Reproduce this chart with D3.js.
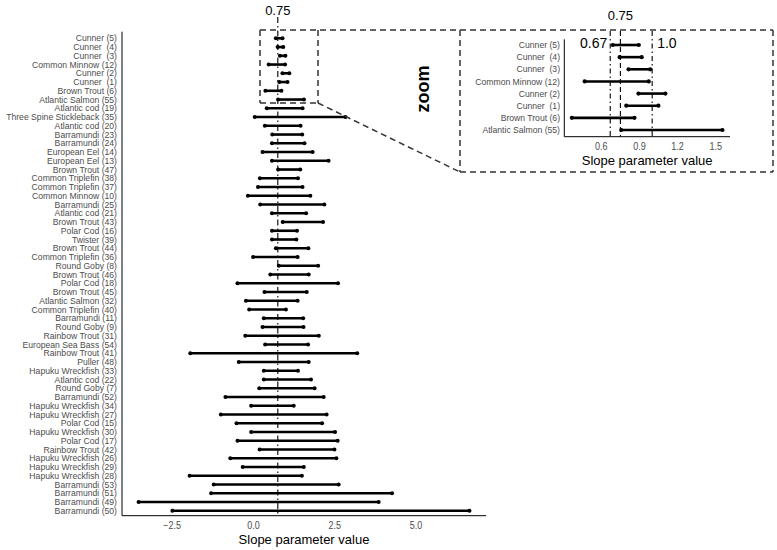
<!DOCTYPE html>
<html><head><meta charset="utf-8">
<script src="https://cdn.jsdelivr.net/npm/d3@7"></script>
<style>
body{margin:0;background:#fff;}
text{font-family:"Liberation Sans",Arial,Helvetica,sans-serif;white-space:pre;}
</style></head>
<body><svg id="c" width="777" height="550"></svg>
<script>
const labels = ["Cunner (5)","Cunner  (4)","Cunner  (3)","Common Minnow (12)","Cunner (2)","Cunner  (1)","Brown Trout (6)","Atlantic Salmon (55)","Atlantic cod (19)","Three Spine Stickleback (35)","Atlantic cod (20)","Barramundi (23)","Barramundi (24)","European Eel (14)","European Eel (13)","Brown Trout (47)","Common Triplefin (38)","Common Triplefin (37)","Common Minnow (10)","Barramundi (25)","Atlantic cod (21)","Brown Trout (43)","Polar Cod (16)","Twister (39)","Brown Trout (44)","Common Triplefin (36)","Round Goby (8)","Brown Trout (46)","Polar Cod (18)","Brown Trout (45)","Atlantic Salmon (32)","Common Triplefin (40)","Barramundi (11)","Round Goby (9)","Rainbow Trout (31)","European Sea Bass (54)","Rainbow Trout (41)","Puller (48)","Hapuku Wreckfish (33)","Atlantic cod (22)","Round Goby (7)","Barramundi (52)","Hapuku Wreckfish (34)","Hapuku Wreckfish (27)","Polar Cod (15)","Hapuku Wreckfish (30)","Polar Cod (17)","Rainbow Trout (42)","Hapuku Wreckfish (26)","Hapuku Wreckfish (29)","Hapuku Wreckfish (28)","Barramundi (53)","Barramundi (51)","Barramundi (49)","Barramundi (50)"];
const lower = [0.69,0.744,0.814,0.469,0.892,0.796,0.368,0.757,0.41,0.04,0.35,0.58,0.57,0.28,0.57,0.76,0.20,0.14,-0.17,0.21,0.57,0.90,0.57,0.57,0.69,-0.01,0.78,0.52,-0.49,0.34,-0.23,-0.13,0.32,0.28,-0.25,0.36,-1.94,-0.45,0.32,0.32,0.18,-0.86,-0.07,-1.00,-0.52,-0.07,-0.49,0.19,-0.71,-0.33,-1.96,-1.22,-1.30,-3.53,-2.49];
const upper = [0.895,0.918,0.984,0.973,1.104,1.049,0.861,1.553,1.51,2.83,1.45,1.50,1.57,1.82,2.31,1.44,1.37,1.51,1.75,2.18,1.62,2.14,1.34,1.32,1.69,1.36,1.99,1.70,2.60,1.64,1.36,1.00,1.53,1.54,2.01,1.68,3.19,1.70,1.37,1.77,1.88,2.16,1.24,2.25,2.11,2.51,2.59,2.49,2.55,1.55,1.49,2.62,4.26,3.85,6.64];
const mainTicks = [-2.5, 0, 2.5, 5];
const insetTicks = [0.6, 0.9, 1.2, 1.5];
const refMain = 0.75;
const insetRefs = [0.67, 0.75, 1.0];
const insetN = 8;

const data = labels.map((l,i)=>({label:l, lo:lower[i], hi:upper[i]}));
const svg = d3.select("#c");
const GREY = "#4d4d4d";

function expand(lo, hi){ const r = hi-lo; return [lo-0.05*r, hi+0.05*r]; }
function condensedText(g, x, y, txt, size, anchor, fill, sx){
  g.append("text").attr("transform",`translate(${x},${y}) scale(${sx},1)`)
    .attr("text-anchor",anchor).attr("dominant-baseline","central")
    .attr("font-size",size).attr("fill",fill).text(txt);
}

// ---------- Main panel ----------
const xM = d3.scaleLinear().domain(expand(d3.min(lower), d3.max(upper))).range([122, 486]);
const yM = d3.scalePoint().domain(labels).range([38.3, 510.7]);
const mainTop = 31.7, mainBot = 515.7;

const gm = svg.append("g");
gm.append("line").attr("x1",xM(refMain)).attr("x2",xM(refMain)).attr("y1",17).attr("y2",mainBot)
  .attr("stroke","#000").attr("stroke-width",1.1).attr("stroke-dasharray","6,3,1.5,3");
gm.append("text").attr("x",xM(refMain)).attr("y",15).attr("text-anchor","middle")
  .attr("font-size",13).attr("fill","#000").text("0.75");

gm.selectAll("line.seg").data(data).join("line").attr("class","seg")
  .attr("x1",d=>xM(d.lo)).attr("x2",d=>xM(d.hi)).attr("y1",d=>yM(d.label)).attr("y2",d=>yM(d.label))
  .attr("stroke","#000").attr("stroke-width",2.6);
gm.selectAll("circle.lo").data(data).join("circle").attr("class","lo")
  .attr("cx",d=>xM(d.lo)).attr("cy",d=>yM(d.label)).attr("r",2).attr("fill","#000");
gm.selectAll("circle.hi").data(data).join("circle").attr("class","hi")
  .attr("cx",d=>xM(d.hi)).attr("cy",d=>yM(d.label)).attr("r",2).attr("fill","#000");

gm.append("line").attr("x1",xM.range()[0]).attr("x2",xM.range()[0]).attr("y1",mainTop).attr("y2",mainBot).attr("stroke","#000").attr("stroke-width",1);
gm.append("line").attr("x1",xM.range()[0]).attr("x2",xM.range()[1]).attr("y1",mainBot).attr("y2",mainBot).attr("stroke","#000").attr("stroke-width",1);
labels.forEach(l=>condensedText(gm, 117, yM(l), l, 9.6, "end", GREY, 0.9));
mainTicks.forEach(t=>condensedText(gm, xM(t), 525.5, d3.format(".1f")(t).replace("-","\u2212"), 10, "middle", GREY, 0.9));
gm.append("text").attr("x",(xM.range()[0]+xM.range()[1])/2).attr("y",544).attr("text-anchor","middle")
  .attr("font-size",13).attr("fill","#000").text("Slope parameter value");

// ---------- zoom box & connectors ----------
function dline(x1,y1,x2,y2){
  svg.append("line").attr("x1",x1).attr("y1",y1).attr("x2",x2).attr("y2",y2)
    .attr("stroke","#333").attr("stroke-width",1.5).attr("stroke-dasharray","6,4");
}
dline(260,30,773,30);
dline(260,30,260,103);
dline(260,103,318,103);
dline(318,30,318,103);
dline(318,103,460,172);
dline(460,30,460,172);
dline(460,172,773,172);
dline(773,30,773,172);

svg.append("text").attr("transform","translate(429,89) rotate(-90)").attr("text-anchor","middle")
  .attr("font-size",18).attr("font-weight","bold").attr("fill","#000").text("zoom");

// ---------- Inset ----------
const inset = data.slice(0, insetN);
const xI = d3.scaleLinear().domain(expand(d3.min(inset,d=>d.lo), d3.max(inset,d=>d.hi))).range([564.3, 730]);
const yI = d3.scalePoint().domain(inset.map(d=>d.label)).range([45, 130]);
const inTop = 39.3, inBot = 136.7;
const gi = svg.append("g");
gi.append("line").attr("x1",xI(insetRefs[0])).attr("x2",xI(insetRefs[0])).attr("y1",31).attr("y2",inBot)
  .attr("stroke","#000").attr("stroke-width",1.1).attr("stroke-dasharray","5,3,1.5,3");
gi.append("line").attr("x1",xI(insetRefs[1])).attr("x2",xI(insetRefs[1])).attr("y1",31).attr("y2",inBot)
  .attr("stroke","#000").attr("stroke-width",1.1).attr("stroke-dasharray","5,3");
gi.append("line").attr("x1",xI(insetRefs[2])).attr("x2",xI(insetRefs[2])).attr("y1",31).attr("y2",inBot)
  .attr("stroke","#000").attr("stroke-width",1.1).attr("stroke-dasharray","5,3,1.5,3");
gi.append("text").attr("x",xI(0.75)).attr("y",20).attr("text-anchor","middle").attr("font-size",13).attr("fill","#000").text("0.75");
gi.append("text").attr("x",xI(0.67)-3).attr("y",48).attr("text-anchor","end").attr("font-size",14).attr("fill","#000").text("0.67");
gi.append("text").attr("x",xI(1.0)+5).attr("y",48).attr("text-anchor","start").attr("font-size",14).attr("fill","#000").text("1.0");

gi.selectAll("line.seg").data(inset).join("line").attr("class","seg")
  .attr("x1",d=>xI(d.lo)).attr("x2",d=>xI(d.hi)).attr("y1",d=>yI(d.label)).attr("y2",d=>yI(d.label))
  .attr("stroke","#000").attr("stroke-width",2.6);
gi.selectAll("circle.lo").data(inset).join("circle").attr("class","lo")
  .attr("cx",d=>xI(d.lo)).attr("cy",d=>yI(d.label)).attr("r",2.1).attr("fill","#000");
gi.selectAll("circle.hi").data(inset).join("circle").attr("class","hi")
  .attr("cx",d=>xI(d.hi)).attr("cy",d=>yI(d.label)).attr("r",2.1).attr("fill","#000");

gi.append("line").attr("x1",xI.range()[0]).attr("x2",xI.range()[0]).attr("y1",inTop).attr("y2",inBot).attr("stroke","#000").attr("stroke-width",1);
gi.append("line").attr("x1",xI.range()[0]).attr("x2",xI.range()[1]).attr("y1",inBot).attr("y2",inBot).attr("stroke","#000").attr("stroke-width",1);
inset.forEach(d=>condensedText(gi, 560, yI(d.label), d.label, 9.8, "end", GREY, 0.88));
insetTicks.forEach(t=>condensedText(gi, xI(t), 146, d3.format(".1f")(t), 10, "middle", GREY, 0.9));
gi.append("text").attr("x",(xI.range()[0]+xI.range()[1])/2).attr("y",165).attr("text-anchor","middle")
  .attr("font-size",13).attr("fill","#000").text("Slope parameter value");
</script></body></html>
